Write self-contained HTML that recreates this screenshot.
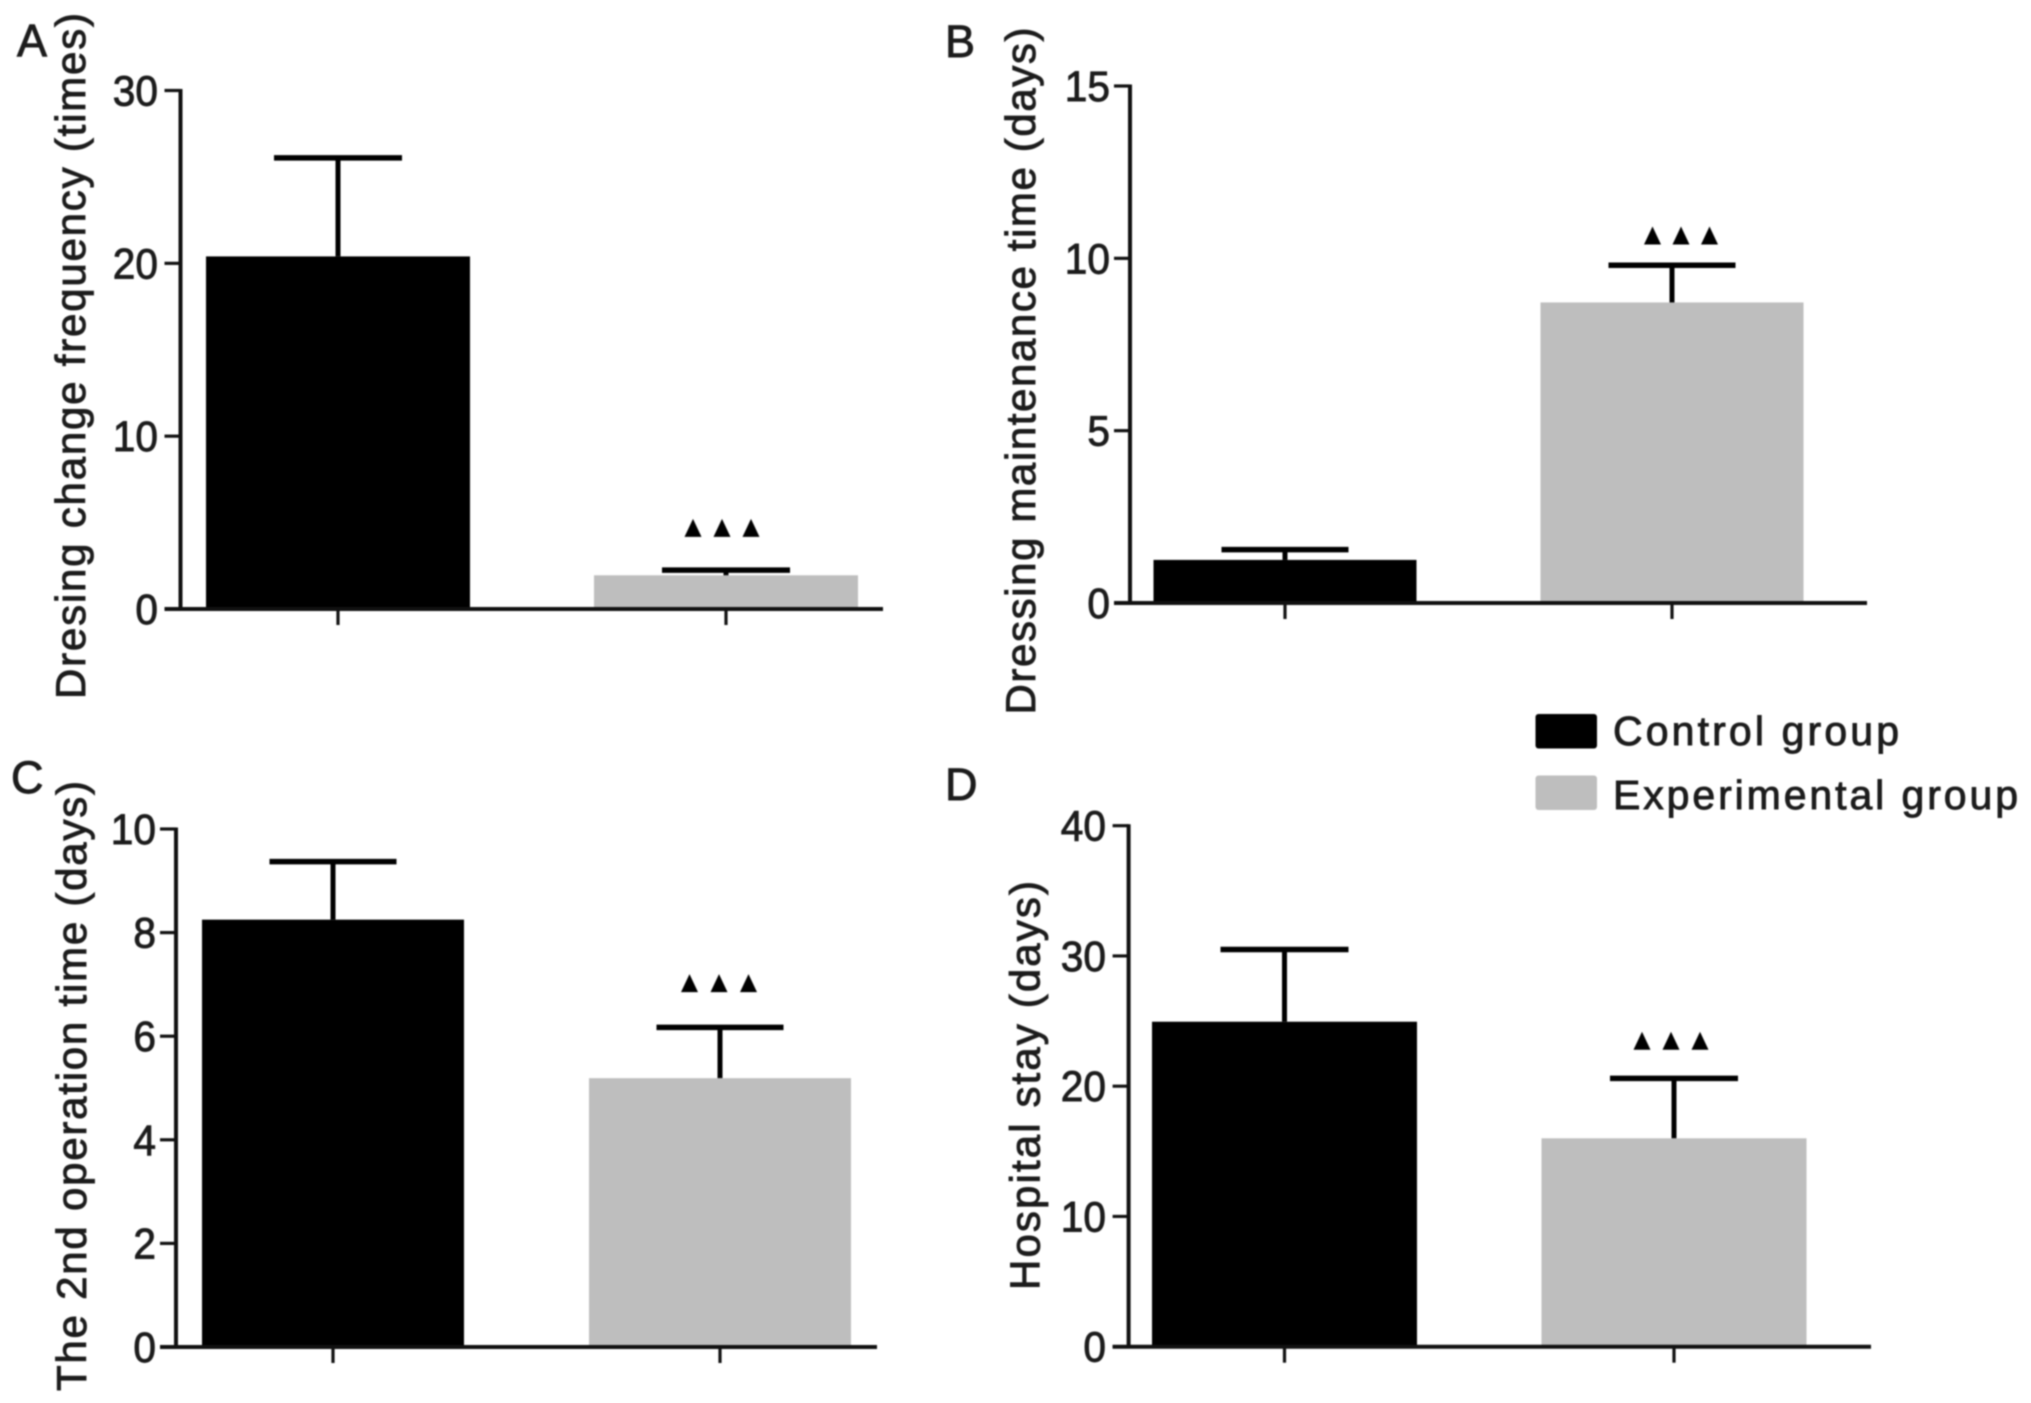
<!DOCTYPE html>
<html lang="en">
<head>
<meta charset="utf-8">
<title>Wound dressing outcomes by group</title>
<style>
  html, body { margin: 0; padding: 0; background: #fff; }
  #figure { display: block; width: 2031px; height: 1403px; filter: blur(0.7px); }
  text { font-family: "Liberation Sans", Arial, sans-serif; fill: #1c1c1c; stroke: #1c1c1c; stroke-width: 0.9px; }
</style>
</head>
<body>
<svg id="figure" xmlns="http://www.w3.org/2000/svg" width="2031" height="1403" viewBox="0 0 2031 1403"></svg>
<script>
const categories = ['Control group', 'Experimental group'];

const panelAMeans = [20.4, 1.95];
const panelAUpper = [26.1, 2.25];
const panelATicks = [0, 10, 20, 30];
const panelASignificance = [null, 4.17];

const panelBMeans = [1.25, 8.72];
const panelBUpper = [1.55, 9.8];
const panelBTicks = [0, 5, 10, 15];
const panelBSignificance = [null, 10.4];

const panelCMeans = [8.25, 5.19];
const panelCUpper = [9.37, 6.17];
const panelCTicks = [0, 2, 4, 6, 8, 10];
const panelCSignificance = [null, 6.85];

const panelDMeans = [24.95, 16];
const panelDUpper = [30.5, 20.6];
const panelDTicks = [0, 10, 20, 30, 40];
const panelDSignificance = [null, 22.8];

const BAR_COLORS = ['#000000', '#bebebe'];
const SVG_NS = 'http://www.w3.org/2000/svg';
const figure = document.getElementById('figure');

function make(parent, tag, attrs, content) {
  const el = document.createElementNS(SVG_NS, tag);
  for (const key in attrs) el.setAttribute(key, attrs[key]);
  if (content !== undefined) el.textContent = content;
  parent.appendChild(el);
  return el;
}

function drawPanel(p) {
  const group = make(figure, 'g', {});
  
  

  const yScale = v => p.y0 - (v / p.ticks[p.ticks.length - 1]) * (p.y0 - p.yTop);
  const xScale = i => p.firstCenter + i * p.step;

  const letter = make(group, 'text', { x: p.letterX, y: p.letterY, 'font-size': 45 }, p.id);
  
  

  const title = make(group, 'text', {
    transform: 'translate(' + p.titleX + ' ' + p.titleBottom + ') rotate(-90)',
    x: 0, y: 0, 'font-size': 42,
    textLength: p.titleLength, lengthAdjust: 'spacing'
  }, p.title);
  
  

  p.means.forEach((value, i) => {
    const cx = xScale(i);
    const bar = make(group, 'rect', {
      x: cx - p.barWidth / 2, y: yScale(value),
      width: p.barWidth, height: p.y0 - yScale(value),
      fill: BAR_COLORS[i]
    });
    
    

    const stem = make(group, 'line', {
      x1: cx, x2: cx, y1: yScale(value), y2: yScale(p.upper[i]),
      stroke: '#000', 'stroke-width': 5
    });
    
    

    const cap = make(group, 'line', {
      x1: cx - p.capWidth / 2, x2: cx + p.capWidth / 2,
      y1: yScale(p.upper[i]), y2: yScale(p.upper[i]),
      stroke: '#000', 'stroke-width': 5.5
    });
    
    

    const tick = make(group, 'line', {
      x1: cx, x2: cx, y1: p.y0, y2: p.y0 + 16,
      stroke: '#111', 'stroke-width': 3.2
    });
    
    

    if (p.significance[i] !== null) {
      const base = yScale(p.significance[i]);
      [-1, 0, 1].forEach(n => {
        const mx = cx + p.sigShift + n * p.sigGap;
        const mark = make(group, 'polygon', {
          points: (mx - 8.5) + ',' + base + ' ' + (mx + 8.5) + ',' + base + ' ' + mx + ',' + (base - 18),
          fill: '#000'
        });
        
        
      });
    }
  });

  const yAxis = make(group, 'line', {
    x1: p.axisX, x2: p.axisX, y1: p.yTop - 1.5, y2: p.y0 + 1.5,
    stroke: '#111', 'stroke-width': 4
  });
  
  

  const xAxis = make(group, 'line', {
    x1: p.axisX - 16, x2: p.axisEnd, y1: p.y0, y2: p.y0,
    stroke: '#111', 'stroke-width': 4
  });
  
  

  p.ticks.forEach(t => {
    const y = yScale(t);
    const tick = make(group, 'line', {
      x1: p.axisX - 16, x2: p.axisX, y1: y, y2: y,
      stroke: '#111', 'stroke-width': 3.2
    });
    
    

    const label = String(t);
    const text = make(group, 'text', {
      x: p.labelRight, y: y + 15, 'font-size': 43, 'text-anchor': 'end',
      textLength: label.length * 22.6, lengthAdjust: 'spacingAndGlyphs'
    }, label);
    
    
  });
}

drawPanel({
  id: 'A', title: 'Dresing change frequency (times)',
  means: panelAMeans, upper: panelAUpper, ticks: panelATicks, significance: panelASignificance,
  axisX: 180.5, axisEnd: 883, y0: 609, yTop: 90.5,
  firstCenter: 338, step: 388, barWidth: 264, capWidth: 128,
  sigShift: -4, sigGap: 29,
  labelRight: 158, letterX: 17, letterY: 56,
  titleX: 85, titleBottom: 699, titleLength: 686
});

drawPanel({
  id: 'B', title: 'Dressing maintenance time (days)',
  means: panelBMeans, upper: panelBUpper, ticks: panelBTicks, significance: panelBSignificance,
  axisX: 1130, axisEnd: 1867, y0: 603, yTop: 86,
  firstCenter: 1285, step: 387, barWidth: 263, capWidth: 127,
  sigShift: 9, sigGap: 28.5,
  labelRight: 1110, letterX: 945, letterY: 57,
  titleX: 1035, titleBottom: 714.5, titleLength: 687
});

drawPanel({
  id: 'C', title: 'The 2nd operation time (days)',
  means: panelCMeans, upper: panelCUpper, ticks: panelCTicks, significance: panelCSignificance,
  axisX: 176, axisEnd: 877, y0: 1347, yTop: 829,
  firstCenter: 333, step: 387, barWidth: 262, capWidth: 127,
  sigShift: -1, sigGap: 29.5,
  labelRight: 156, letterX: 11, letterY: 793,
  titleX: 86, titleBottom: 1391, titleLength: 610
});

drawPanel({
  id: 'D', title: 'Hospital stay (days)',
  means: panelDMeans, upper: panelDUpper, ticks: panelDTicks, significance: panelDSignificance,
  axisX: 1128.6, axisEnd: 1871, y0: 1346.7, yTop: 825.7,
  firstCenter: 1284.5, step: 389.5, barWidth: 265, capWidth: 128,
  sigShift: -3, sigGap: 29,
  labelRight: 1106, letterX: 945, letterY: 800,
  titleX: 1039.5, titleBottom: 1290, titleLength: 409
});

const legend = make(figure, 'g', {});



categories.forEach((name, i) => {
  const swatch = make(legend, 'rect', {
    x: 1535.5, y: 714 + i * 61.5, width: 61.5, height: 34.5, rx: 3,
    fill: BAR_COLORS[i]
  });
  
  

  const label = make(legend, 'text', {
    x: 1613, y: 745 + i * 64, 'font-size': 41,
    textLength: i === 0 ? 286 : 405, lengthAdjust: 'spacing'
  }, name);
  
  
});
</script>
</body>
</html>
